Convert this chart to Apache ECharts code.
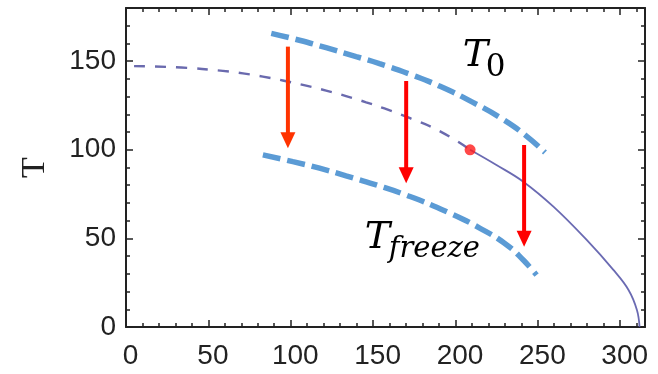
<!DOCTYPE html>
<html>
<head>
<meta charset="utf-8">
<script src="https://cdn.jsdelivr.net/npm/echarts@6/dist/echarts.min.js"></script>
<style>
html,body{margin:0;padding:0;background:#fff;}
#chart{width:658px;height:374px;}
</style>
</head>
<body>
<div id="chart"></div>
<script>
// ---- data ----
const xTickLabels = [0, 50, 100, 150, 200, 250, 300];
const yTickLabels = [0, 50, 100, 150];
const xMajorStep = 50, xMinorStep = 10;
const yMajorStep = 50, yMinorStep = 10;

// phase boundary, dashed part
const phaseDashX = [0, 28.6, 53.9, 66.1, 78.2, 90.3, 104.5, 116.6, 128.7, 140.9, 152, 167.6, 185.8, 204];
const phaseDashT = [147.2, 146.4, 144.5, 143.1, 141.3, 139.1, 136.2, 133.4, 130.3, 126.8, 123.3, 117.8, 110.4, 100];
// phase boundary, solid part
const phaseSolidX = [204, 220, 236.3, 254.6, 274.8, 291, 300.2, 305.3, 306.9];
const phaseSolidT = [100, 91.4, 82.0, 67.9, 49.1, 32.2, 20.9, 9.6, 0];
// critical point
const critX = [204];
const critT = [100];
// T0 curve
const t0X = [83.3, 100.4, 116.6, 134.8, 149, 167.6, 185.8, 206, 224.2, 238.4, 249.5];
const t0T = [165.7, 161.8, 157.6, 152.6, 148.6, 142.6, 135.8, 126.6, 117.0, 107.6, 98.5];
// T_freeze curve
const tfX = [78.2, 96.4, 112.6, 128.7, 145.9, 165.6, 189.9, 210.1, 226.3, 236.3, 244.4];
const tfT = [97.1, 93.3, 89.6, 85.3, 80.5, 74.3, 65.0, 55.7, 46.3, 37.8, 29.3];
// arrows: x, start T, tip T
const arrowX = [93.4, 165.2, 236.8];
const arrowFromT = [158.2, 138.8, 102.7];
const arrowToT = [100.8, 81.1, 45.3];
// annotation labels
const labelX = [199.5, 140];
const labelT = [153, 50.1];
const labelMain = ['T', 'T'];
const labelSub = ['0', 'freeze'];

// ---- styles ----
const arrowColors = ['#ff3300', '#ff0000', '#ff0000'];
const subStyles = [
  {dx: 23, dy: 12.5, font: '31px "DejaVu Serif"'},
  {dx: 24, dy: 11.5, font: 'italic 29px "DejaVu Serif"'}
];

const zip = (a, b) => a.map((v, i) => [v, b[i]]);

const X_MIN = -4.9, X_MAX = 310.2, Y_MIN = 0, Y_MAX = 180;
const frameColor = '#222';
const labelFont = {fontFamily: 'Liberation Sans', fontSize: 28, color: '#222'};

function xAxisDef(pos, major, withLabel) {
  return {
    type: 'value', position: pos, min: X_MIN, max: X_MAX,
    interval: major ? xMajorStep : xMinorStep,
    axisLine: {show: major, onZero: false, lineStyle: {color: frameColor, width: 2}},
    splitLine: {show: false},
    axisTick: {show: true, inside: true, length: major ? 7 : 4,
      lineStyle: {color: frameColor, width: 1.5}},
    axisLabel: withLabel ? Object.assign({show: true, margin: 15, customValues: xTickLabels, padding: [0, 7, 0, 0]}, labelFont) : {show: false}
  };
}
function yAxisDef(pos, major, withLabel) {
  return {
    type: 'value', position: pos, min: Y_MIN, max: Y_MAX,
    interval: major ? yMajorStep : yMinorStep,
    axisLine: {show: major, onZero: false, lineStyle: {color: frameColor, width: 2}},
    splitLine: {show: false},
    axisTick: {show: true, inside: true, length: major ? 7 : 4,
      lineStyle: {color: frameColor, width: 1.5}},
    axisLabel: withLabel ? Object.assign({show: true, margin: 10, customValues: yTickLabels, padding: [0, 0, 7, 0]}, labelFont) : {show: false},
    name: withLabel ? 'T' : '',
    nameLocation: 'middle',
    nameGap: 74,
    nameTextStyle: {fontFamily: 'Liberation Serif', fontSize: 34, color: '#222'}
  };
}

const chart = echarts.init(document.getElementById('chart'), null, {renderer: 'canvas'});

const option = {
  animation: false,
  backgroundColor: '#ffffff',
  grid: {left: 126, right: 13, top: 8, bottom: 47, containLabel: false},
  xAxis: [
    xAxisDef('bottom', true, true),
    xAxisDef('bottom', false, false),
    xAxisDef('top', true, false),
    xAxisDef('top', false, false)
  ],
  yAxis: [
    yAxisDef('left', true, true),
    yAxisDef('left', false, false),
    yAxisDef('right', true, false),
    yAxisDef('right', false, false)
  ],
  series: [
    {
      type: 'line', data: zip(phaseDashX, phaseDashT), smooth: 0.5, symbol: 'none',
      lineStyle: {color: '#45459a', width: 2.4, type: [11, 10], opacity: 0.8}, z: 2
    },
    {
      type: 'line', data: zip(phaseSolidX, phaseSolidT), smooth: 0.4, symbol: 'none',
      lineStyle: {color: '#5050a4', width: 1.8, opacity: 0.85}, z: 2
    },
    {
      type: 'line', data: zip(t0X, t0T), smooth: 0.5, symbol: 'none',
      lineStyle: {color: '#5b9bd5', width: 5.5, type: [18, 7], cap: 'butt'}, z: 3
    },
    {
      type: 'line', data: zip(tfX, tfT), smooth: 0.5, symbol: 'none',
      lineStyle: {color: '#5b9bd5', width: 5.5, type: [18, 7], cap: 'butt'}, z: 3
    },
    {
      type: 'scatter', data: zip(critX, critT), symbol: 'circle', symbolSize: 11,
      itemStyle: {color: '#ff1a1a'}, z: 4
    },
    {
      type: 'custom', z: 5,
      data: arrowX.map((x, i) => [x, arrowFromT[i], arrowToT[i]]),
      encode: {x: 0, y: [1, 2]},
      renderItem: function (params, api) {
        const top = api.coord([api.value(0), api.value(1)]);
        const tip = api.coord([api.value(0), api.value(2)]);
        const headLen = 16, headW = 15;
        const color = arrowColors[params.dataIndex];
        return {
          type: 'group',
          children: [
            {type: 'line', shape: {x1: top[0], y1: top[1], x2: tip[0], y2: tip[1] - headLen + 1},
              style: {stroke: color, lineWidth: 4}},
            {type: 'polygon', shape: {points: [[tip[0] - headW / 2, tip[1] - headLen], [tip[0] + headW / 2, tip[1] - headLen], [tip[0], tip[1]]]},
              style: {fill: color}}
          ]
        };
      }
    },
    {
      type: 'custom', z: 6,
      data: labelX.map((x, i) => [x, labelT[i]]),
      encode: {x: 0, y: 1},
      renderItem: function (params, api) {
        const p = api.coord([api.value(0), api.value(1)]);
        const i = params.dataIndex;
        const s = subStyles[i];
        return {
          type: 'group',
          children: [
            {type: 'text', x: p[0], y: p[1],
              style: {text: labelMain[i], font: 'italic 38px "DejaVu Serif"', fill: '#000', align: 'left', verticalAlign: 'middle'}},
            {type: 'text', x: p[0] + s.dx, y: p[1] + s.dy,
              style: {text: labelSub[i], font: s.font, fill: '#000', align: 'left', verticalAlign: 'middle'}}
          ]
        };
      }
    }
  ]
};
chart.setOption(option);
</script>
</body>
</html>
